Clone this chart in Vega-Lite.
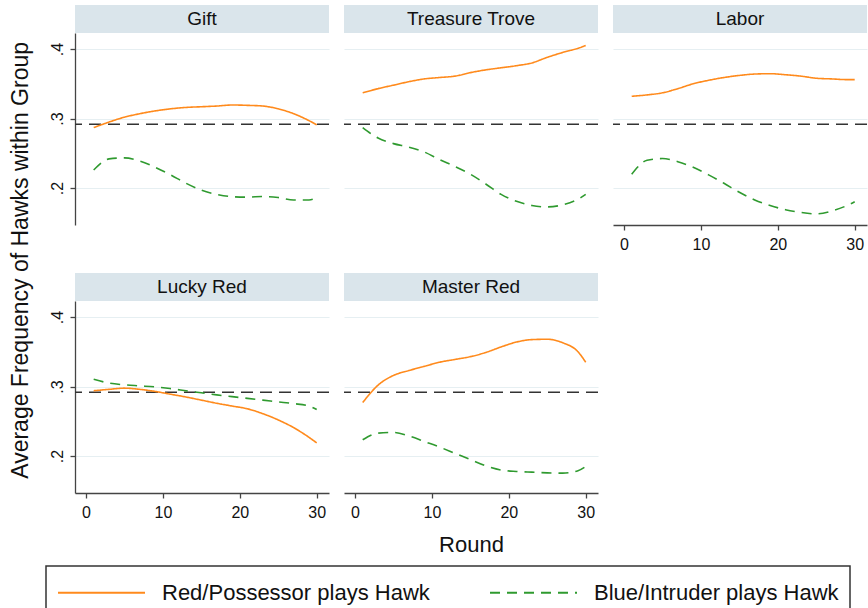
{
  "$schema": "https://vega.github.io/schema/vega-lite/v6.json",
  "padding": {"left": 10, "top": 5, "right": 0, "bottom": 0},
  "config": {
    "font": "Liberation Sans",
    "view": {"stroke": null},
    "axis": {"labelFont": "Liberation Sans", "titleFont": "Liberation Sans", "labelFontSize": 16, "labelColor": "#111", "titleColor": "#111", "titleFontWeight": "normal", "domainColor": "#444", "tickColor": "#444", "domainWidth": 1.3, "tickWidth": 1.3, "tickSize": 5, "labelPadding": 6, "gridColor": "#e6eff2", "gridWidth": 1.2},
    "axisLeft": {"labelPadding": 5},
    "legend": {"labelFont": "Liberation Sans", "labelFontSize": 22, "labelLimit": 500, "labelColor": "#111", "symbolType": "M-1,0L5,0", "symbolSize": 841, "symbolStrokeWidth": 2, "labelOffset": 74, "columnPadding": 56, "padding": 11, "strokeColor": "#333", "strokeWidth": 1.5, "fillColor": "#ffffff", "direction": "horizontal", "orient": "none", "legendX": -29, "legendY": 561}
  },
  "title": {"text": "Average Frequency of Hawks within Group", "orient": "left", "anchor": "middle", "fontSize": 23, "fontWeight": "normal", "color": "#111", "font": "Liberation Sans", "offset": 12, "dx": 50},
  "datasets": {
    "panels": [{"group": "Gift"}, {"group": "Treasure Trove"}, {"group": "Labor"}, {"group": "Lucky Red"}, {"group": "Master Red"}],
    "ref": [{"value": 0.2917}],
    "hawks": [
      {"group": "Gift", "round": 1, "red": 0.287, "blue": 0.226},
      {"group": "Gift", "round": 3, "red": 0.295, "blue": 0.242},
      {"group": "Gift", "round": 5, "red": 0.302, "blue": 0.2435},
      {"group": "Gift", "round": 7, "red": 0.307, "blue": 0.239},
      {"group": "Gift", "round": 9, "red": 0.311, "blue": 0.230},
      {"group": "Gift", "round": 11, "red": 0.314, "blue": 0.219},
      {"group": "Gift", "round": 13, "red": 0.316, "blue": 0.207},
      {"group": "Gift", "round": 15, "red": 0.317, "blue": 0.197},
      {"group": "Gift", "round": 17, "red": 0.318, "blue": 0.191},
      {"group": "Gift", "round": 19, "red": 0.3195, "blue": 0.1877},
      {"group": "Gift", "round": 21, "red": 0.319, "blue": 0.187},
      {"group": "Gift", "round": 23, "red": 0.318, "blue": 0.188},
      {"group": "Gift", "round": 25, "red": 0.314, "blue": 0.1865},
      {"group": "Gift", "round": 27, "red": 0.307, "blue": 0.183},
      {"group": "Gift", "round": 29, "red": 0.297, "blue": 0.183},
      {"group": "Gift", "round": 30, "red": 0.291, "blue": 0.186},
      {"group": "Treasure Trove", "round": 1, "red": 0.337, "blue": 0.287},
      {"group": "Treasure Trove", "round": 3, "red": 0.343, "blue": 0.272},
      {"group": "Treasure Trove", "round": 5, "red": 0.348, "blue": 0.264},
      {"group": "Treasure Trove", "round": 7, "red": 0.353, "blue": 0.259},
      {"group": "Treasure Trove", "round": 9, "red": 0.357, "blue": 0.252},
      {"group": "Treasure Trove", "round": 11, "red": 0.359, "blue": 0.241},
      {"group": "Treasure Trove", "round": 13, "red": 0.361, "blue": 0.231},
      {"group": "Treasure Trove", "round": 15, "red": 0.366, "blue": 0.220},
      {"group": "Treasure Trove", "round": 17, "red": 0.370, "blue": 0.206},
      {"group": "Treasure Trove", "round": 19, "red": 0.373, "blue": 0.191},
      {"group": "Treasure Trove", "round": 21, "red": 0.376, "blue": 0.181},
      {"group": "Treasure Trove", "round": 23, "red": 0.380, "blue": 0.175},
      {"group": "Treasure Trove", "round": 25, "red": 0.388, "blue": 0.173},
      {"group": "Treasure Trove", "round": 27, "red": 0.395, "blue": 0.176},
      {"group": "Treasure Trove", "round": 29, "red": 0.401, "blue": 0.184},
      {"group": "Treasure Trove", "round": 30, "red": 0.405, "blue": 0.191},
      {"group": "Labor", "round": 1, "red": 0.332, "blue": 0.220},
      {"group": "Labor", "round": 3, "red": 0.334, "blue": 0.240},
      {"group": "Labor", "round": 5, "red": 0.337, "blue": 0.2425},
      {"group": "Labor", "round": 7, "red": 0.343, "blue": 0.238},
      {"group": "Labor", "round": 9, "red": 0.350, "blue": 0.230},
      {"group": "Labor", "round": 11, "red": 0.355, "blue": 0.219},
      {"group": "Labor", "round": 13, "red": 0.359, "blue": 0.207},
      {"group": "Labor", "round": 15, "red": 0.362, "blue": 0.194},
      {"group": "Labor", "round": 17, "red": 0.364, "blue": 0.183},
      {"group": "Labor", "round": 19, "red": 0.3645, "blue": 0.175},
      {"group": "Labor", "round": 21, "red": 0.363, "blue": 0.169},
      {"group": "Labor", "round": 23, "red": 0.361, "blue": 0.165},
      {"group": "Labor", "round": 25, "red": 0.358, "blue": 0.163},
      {"group": "Labor", "round": 27, "red": 0.357, "blue": 0.167},
      {"group": "Labor", "round": 29, "red": 0.356, "blue": 0.175},
      {"group": "Labor", "round": 30, "red": 0.356, "blue": 0.1805},
      {"group": "Lucky Red", "round": 1, "red": 0.294, "blue": 0.3105},
      {"group": "Lucky Red", "round": 3, "red": 0.296, "blue": 0.305},
      {"group": "Lucky Red", "round": 5, "red": 0.2977, "blue": 0.3025},
      {"group": "Lucky Red", "round": 7, "red": 0.296, "blue": 0.301},
      {"group": "Lucky Red", "round": 9, "red": 0.293, "blue": 0.2995},
      {"group": "Lucky Red", "round": 11, "red": 0.289, "blue": 0.297},
      {"group": "Lucky Red", "round": 13, "red": 0.285, "blue": 0.294},
      {"group": "Lucky Red", "round": 15, "red": 0.2805, "blue": 0.291},
      {"group": "Lucky Red", "round": 17, "red": 0.276, "blue": 0.288},
      {"group": "Lucky Red", "round": 19, "red": 0.272, "blue": 0.2855},
      {"group": "Lucky Red", "round": 21, "red": 0.268, "blue": 0.283},
      {"group": "Lucky Red", "round": 23, "red": 0.261, "blue": 0.2805},
      {"group": "Lucky Red", "round": 25, "red": 0.252, "blue": 0.278},
      {"group": "Lucky Red", "round": 27, "red": 0.241, "blue": 0.2755},
      {"group": "Lucky Red", "round": 29, "red": 0.227, "blue": 0.272},
      {"group": "Lucky Red", "round": 30, "red": 0.219, "blue": 0.267},
      {"group": "Master Red", "round": 1, "red": 0.277, "blue": 0.2235},
      {"group": "Master Red", "round": 3, "red": 0.302, "blue": 0.233},
      {"group": "Master Red", "round": 5, "red": 0.316, "blue": 0.234},
      {"group": "Master Red", "round": 7, "red": 0.323, "blue": 0.229},
      {"group": "Master Red", "round": 9, "red": 0.329, "blue": 0.221},
      {"group": "Master Red", "round": 11, "red": 0.335, "blue": 0.213},
      {"group": "Master Red", "round": 13, "red": 0.339, "blue": 0.204},
      {"group": "Master Red", "round": 15, "red": 0.343, "blue": 0.195},
      {"group": "Master Red", "round": 17, "red": 0.349, "blue": 0.186},
      {"group": "Master Red", "round": 19, "red": 0.357, "blue": 0.180},
      {"group": "Master Red", "round": 21, "red": 0.364, "blue": 0.178},
      {"group": "Master Red", "round": 23, "red": 0.3675, "blue": 0.177},
      {"group": "Master Red", "round": 25, "red": 0.368, "blue": 0.176},
      {"group": "Master Red", "round": 27, "red": 0.363, "blue": 0.1755},
      {"group": "Master Red", "round": 29, "red": 0.350, "blue": 0.179},
      {"group": "Master Red", "round": 30, "red": 0.335, "blue": 0.185}
    ]
  },
  "columns": 3,
  "align": "each",
  "spacing": {"row": 21, "column": 13},
  "resolve": {"scale": {"color": "shared", "strokeDash": "shared"}},
  "concat": [
    {"spacing": 0, "vconcat": [
      {"width": 254, "height": 28, "view": {"fill": "#dae5eb", "stroke": null}, "data": {"name": "panels"}, "transform": [{"filter": "datum.group == 'Gift'"}], "mark": {"type": "text", "fontSize": 19, "color": "#111"}, "encoding": {"text": {"field": "group"}}},
      {"width": 254, "height": 192,
       "encoding": {"y": {"field": "value", "type": "quantitative", "scale": {"domain": [0.147, 0.423], "nice": false, "zero": false}, "axis": {"values": [0.2, 0.3, 0.4], "labelExpr": "replace(format(datum.value, '.1f'), '0.', '.')", "labelAngle": 270, "title": null, "grid": true}}},
       "layer": [
        {"data": {"name": "ref"}, "mark": {"type": "rule", "strokeDash": [12, 7], "color": "#333", "strokeWidth": 1.5}},
        {"data": {"name": "hawks"}, "transform": [{"filter": "datum.group == 'Gift'"}, {"fold": ["red", "blue"], "as": ["series", "value"]}],
         "mark": {"type": "line", "interpolate": "monotone", "strokeWidth": 1.6},
         "encoding": {
          "x": {"field": "round", "type": "quantitative", "scale": {"domain": [-1.43, 31.6], "nice": false, "zero": false}, "axis": null},
          "color": {"field": "series", "type": "nominal", "scale": {"domain": ["red", "blue"], "range": ["#ff8a1c", "#2f9a2f"]}, "legend": {"title": null, "labelExpr": "datum.value == 'red' ? 'Red/Possessor plays Hawk' : 'Blue/Intruder plays Hawk'"}},
          "strokeDash": {"field": "series", "type": "nominal", "scale": {"domain": ["red", "blue"], "range": [[1, 0], [10, 7]]}, "legend": {"title": null, "labelExpr": "datum.value == 'red' ? 'Red/Possessor plays Hawk' : 'Blue/Intruder plays Hawk'"}}
         }}
       ]}
    ]},
    {"spacing": 0, "vconcat": [
      {"width": 254, "height": 28, "view": {"fill": "#dae5eb", "stroke": null}, "data": {"name": "panels"}, "transform": [{"filter": "datum.group == 'Treasure Trove'"}], "mark": {"type": "text", "fontSize": 19, "color": "#111"}, "encoding": {"text": {"field": "group"}}},
      {"width": 254, "height": 192,
       "encoding": {"y": {"field": "value", "type": "quantitative", "scale": {"domain": [0.147, 0.423], "nice": false, "zero": false}, "axis": {"values": [0.2, 0.3, 0.4], "labels": false, "ticks": false, "domain": false, "title": null, "grid": true}}},
       "layer": [
        {"data": {"name": "ref"}, "mark": {"type": "rule", "strokeDash": [12, 7], "color": "#333", "strokeWidth": 1.5}},
        {"data": {"name": "hawks"}, "transform": [{"filter": "datum.group == 'Treasure Trove'"}, {"fold": ["red", "blue"], "as": ["series", "value"]}],
         "mark": {"type": "line", "interpolate": "monotone", "strokeWidth": 1.6},
         "encoding": {
          "x": {"field": "round", "type": "quantitative", "scale": {"domain": [-1.43, 31.6], "nice": false, "zero": false}, "axis": null},
          "color": {"field": "series", "type": "nominal", "scale": {"domain": ["red", "blue"], "range": ["#ff8a1c", "#2f9a2f"]}, "legend": {"title": null, "labelExpr": "datum.value == 'red' ? 'Red/Possessor plays Hawk' : 'Blue/Intruder plays Hawk'"}},
          "strokeDash": {"field": "series", "type": "nominal", "scale": {"domain": ["red", "blue"], "range": [[1, 0], [10, 7]]}, "legend": {"title": null, "labelExpr": "datum.value == 'red' ? 'Red/Possessor plays Hawk' : 'Blue/Intruder plays Hawk'"}}
         }}
       ]}
    ]},
    {"spacing": 0, "vconcat": [
      {"width": 254, "height": 28, "view": {"fill": "#dae5eb", "stroke": null}, "data": {"name": "panels"}, "transform": [{"filter": "datum.group == 'Labor'"}], "mark": {"type": "text", "fontSize": 19, "color": "#111"}, "encoding": {"text": {"field": "group"}}},
      {"width": 254, "height": 192,
       "encoding": {"y": {"field": "value", "type": "quantitative", "scale": {"domain": [0.147, 0.423], "nice": false, "zero": false}, "axis": {"values": [0.2, 0.3, 0.4], "labels": false, "ticks": false, "domain": false, "title": null, "grid": true}}},
       "layer": [
        {"data": {"name": "ref"}, "mark": {"type": "rule", "strokeDash": [12, 7], "color": "#333", "strokeWidth": 1.5}},
        {"data": {"name": "hawks"}, "transform": [{"filter": "datum.group == 'Labor'"}, {"fold": ["red", "blue"], "as": ["series", "value"]}],
         "mark": {"type": "line", "interpolate": "monotone", "strokeWidth": 1.6},
         "encoding": {
          "x": {"field": "round", "type": "quantitative", "scale": {"domain": [-1.43, 31.6], "nice": false, "zero": false}, "axis": {"values": [0, 10, 20, 30], "title": null, "grid": false}},
          "color": {"field": "series", "type": "nominal", "scale": {"domain": ["red", "blue"], "range": ["#ff8a1c", "#2f9a2f"]}, "legend": {"title": null, "labelExpr": "datum.value == 'red' ? 'Red/Possessor plays Hawk' : 'Blue/Intruder plays Hawk'"}},
          "strokeDash": {"field": "series", "type": "nominal", "scale": {"domain": ["red", "blue"], "range": [[1, 0], [10, 7]]}, "legend": {"title": null, "labelExpr": "datum.value == 'red' ? 'Red/Possessor plays Hawk' : 'Blue/Intruder plays Hawk'"}}
         }}
       ]}
    ]},
    {"spacing": 0, "vconcat": [
      {"width": 254, "height": 28, "view": {"fill": "#dae5eb", "stroke": null}, "data": {"name": "panels"}, "transform": [{"filter": "datum.group == 'Lucky Red'"}], "mark": {"type": "text", "fontSize": 19, "color": "#111"}, "encoding": {"text": {"field": "group"}}},
      {"width": 254, "height": 192,
       "encoding": {"y": {"field": "value", "type": "quantitative", "scale": {"domain": [0.147, 0.423], "nice": false, "zero": false}, "axis": {"values": [0.2, 0.3, 0.4], "labelExpr": "replace(format(datum.value, '.1f'), '0.', '.')", "labelAngle": 270, "title": null, "grid": true}}},
       "layer": [
        {"data": {"name": "ref"}, "mark": {"type": "rule", "strokeDash": [12, 7], "color": "#333", "strokeWidth": 1.5}},
        {"data": {"name": "hawks"}, "transform": [{"filter": "datum.group == 'Lucky Red'"}, {"fold": ["red", "blue"], "as": ["series", "value"]}],
         "mark": {"type": "line", "interpolate": "monotone", "strokeWidth": 1.6},
         "encoding": {
          "x": {"field": "round", "type": "quantitative", "scale": {"domain": [-1.43, 31.6], "nice": false, "zero": false}, "axis": {"values": [0, 10, 20, 30], "title": null, "grid": false}},
          "color": {"field": "series", "type": "nominal", "scale": {"domain": ["red", "blue"], "range": ["#ff8a1c", "#2f9a2f"]}, "legend": {"title": null, "labelExpr": "datum.value == 'red' ? 'Red/Possessor plays Hawk' : 'Blue/Intruder plays Hawk'"}},
          "strokeDash": {"field": "series", "type": "nominal", "scale": {"domain": ["red", "blue"], "range": [[1, 0], [10, 7]]}, "legend": {"title": null, "labelExpr": "datum.value == 'red' ? 'Red/Possessor plays Hawk' : 'Blue/Intruder plays Hawk'"}}
         }}
       ]}
    ]},
    {"spacing": 0, "vconcat": [
      {"width": 254, "height": 28, "view": {"fill": "#dae5eb", "stroke": null}, "data": {"name": "panels"}, "transform": [{"filter": "datum.group == 'Master Red'"}], "mark": {"type": "text", "fontSize": 19, "color": "#111"}, "encoding": {"text": {"field": "group"}}},
      {"width": 254, "height": 192,
       "encoding": {"y": {"field": "value", "type": "quantitative", "scale": {"domain": [0.147, 0.423], "nice": false, "zero": false}, "axis": {"values": [0.2, 0.3, 0.4], "labels": false, "ticks": false, "domain": false, "title": null, "grid": true}}},
       "layer": [
        {"data": {"name": "ref"}, "mark": {"type": "rule", "strokeDash": [12, 7], "color": "#333", "strokeWidth": 1.5}},
        {"data": {"name": "hawks"}, "transform": [{"filter": "datum.group == 'Master Red'"}, {"fold": ["red", "blue"], "as": ["series", "value"]}],
         "mark": {"type": "line", "interpolate": "monotone", "strokeWidth": 1.6},
         "encoding": {
          "x": {"field": "round", "type": "quantitative", "scale": {"domain": [-1.43, 31.6], "nice": false, "zero": false}, "axis": {"values": [0, 10, 20, 30], "title": "Round", "titleFontSize": 22, "titlePadding": 14, "grid": false}},
          "color": {"field": "series", "type": "nominal", "scale": {"domain": ["red", "blue"], "range": ["#ff8a1c", "#2f9a2f"]}, "legend": {"title": null, "labelExpr": "datum.value == 'red' ? 'Red/Possessor plays Hawk' : 'Blue/Intruder plays Hawk'"}},
          "strokeDash": {"field": "series", "type": "nominal", "scale": {"domain": ["red", "blue"], "range": [[1, 0], [10, 7]]}, "legend": {"title": null, "labelExpr": "datum.value == 'red' ? 'Red/Possessor plays Hawk' : 'Blue/Intruder plays Hawk'"}}
         }}
       ]}
    ]}
  ]
}
